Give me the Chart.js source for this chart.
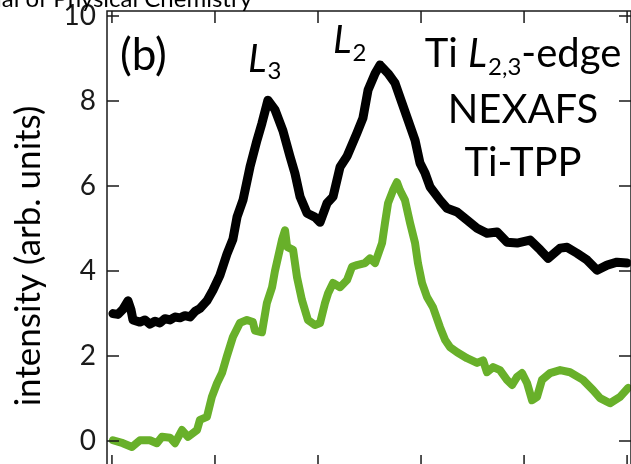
<!DOCTYPE html>
<html lang="en">
<head>
    <title>Ti L2,3-edge NEXAFS</title>
    <meta charset="utf-8">
    <script src="https://cdn.jsdelivr.net/npm/chart.js"></script>
    <style>
        html, body { margin: 0; padding: 0; width: 631px; height: 464px; overflow: hidden; background: #fff; }
        #wrap { width: 631px; height: 467px; }
    </style>
</head>
<body>
    <div id="wrap"><canvas id="nexafsChart" width="631" height="467"></canvas></div>

    <script>
        // photon energy (eV) and intensity, upper (black) curve
        const blackEnergy = [450.05, 450.29, 450.53, 450.78, 450.92, 451.02, 451.36, 451.60, 451.84, 452.09, 452.33, 452.57,
            452.82, 453.06, 453.30, 453.54, 453.79, 454.03, 454.27, 454.61, 454.90, 455.24, 455.58, 455.87, 456.07, 456.36,
            456.70, 457.04, 457.28, 457.57, 457.91, 458.30, 458.64, 458.88, 459.13, 459.47, 459.85, 460.10, 460.44, 460.73,
            461.07, 461.41, 461.89, 462.18, 462.43, 462.77, 463.01, 463.40, 463.74, 464.08, 464.37, 464.71, 464.95, 465.20,
            465.44, 465.92, 466.26, 466.75, 467.23, 467.72, 468.20, 468.69, 469.17, 469.66, 470.29, 470.78, 471.17, 471.75,
            472.09, 472.57, 473.06, 473.54, 474.03, 474.51, 475.00];
        const blackIntensity = [3.00, 2.98, 3.10, 3.30, 3.10, 2.85, 2.80, 2.85, 2.75, 2.82, 2.78, 2.88,
            2.85, 2.92, 2.90, 2.95, 2.92, 3.05, 3.12, 3.30, 3.55, 3.90, 4.40, 4.75, 5.27, 5.67,
            6.45, 7.08, 7.48, 8.02, 7.80, 7.30, 6.70, 6.30, 5.75, 5.36, 5.27, 5.15, 5.60, 5.75,
            6.45, 6.70, 7.25, 7.60, 8.26, 8.65, 8.85, 8.65, 8.42, 7.95, 7.55, 7.08, 6.54, 6.30,
            5.98, 5.67, 5.48, 5.39, 5.20, 5.01, 4.89, 4.92, 4.68, 4.66, 4.73, 4.50, 4.30, 4.54,
            4.56, 4.42, 4.26, 4.02, 4.14, 4.21, 4.19];

        // lower (green) curve
        const greenEnergy = [450.05, 450.53, 450.97, 451.36, 451.84, 452.18, 452.43, 452.82, 453.06, 453.40, 453.69, 454.13,
            454.27, 454.61, 454.85, 455.10, 455.34, 455.58, 455.87, 456.21, 456.55, 456.84, 456.94, 457.28, 457.52, 457.77,
            457.91, 458.25, 458.40, 458.50, 458.79, 458.98, 459.22, 459.51, 459.85, 460.10, 460.34, 460.49, 460.73, 461.07,
            461.41, 461.65, 461.89, 462.28, 462.52, 462.77, 463.11, 463.25, 463.40, 463.64, 463.83, 463.98, 464.22, 464.47,
            464.71, 464.85, 465.05, 465.29, 465.58, 465.92, 466.17, 466.41, 466.75, 467.23, 467.72, 468.01, 468.20, 468.50,
            468.83, 469.17, 469.42, 469.66, 469.90, 470.15, 470.39, 470.63, 470.87, 471.26, 471.75, 472.23, 472.86, 473.35,
            473.69, 474.17, 474.66, 475.05];
        const greenIntensity = [0.02, -0.05, -0.14, 0.02, 0.02, -0.05, 0.10, 0.08, -0.05, 0.26, 0.10, 0.26,
            0.50, 0.57, 1.04, 1.36, 1.60, 2.00, 2.45, 2.78, 2.85, 2.80, 2.60, 2.56, 3.25, 3.62,
            4.00, 4.73, 4.96, 4.57, 4.50, 3.86, 3.32, 2.85, 2.73, 2.78, 3.25, 3.48, 3.72, 3.62,
            3.79, 4.10, 4.14, 4.19, 4.30, 4.19, 4.66, 5.13, 5.60, 5.90, 6.09, 5.90, 5.67, 5.13,
            4.66, 4.19, 3.72, 3.39, 3.15, 2.68, 2.38, 2.21, 2.09, 1.95, 1.84, 1.90, 1.62, 1.74,
            1.67, 1.44, 1.32, 1.51, 1.60, 1.36, 0.96, 1.04, 1.44, 1.60, 1.67, 1.62, 1.44, 1.20,
            1.01, 0.89, 1.04, 1.25];

        const xTicks = [450, 455, 460, 465, 470, 475];
        const yTicks = [0, 2, 4, 6, 8, 10];

        const FONT = 'Lato, "Open Sans", sans-serif';
        const INK = '#1a1a1a';

        const toPoints = (xs, ys) => xs.map((x, i) => ({ x: x, y: ys[i] }));

        // draws one run of text and returns where it ends
        function drawPart(ctx, text, x, y, size, italic) {
            ctx.font = (italic ? 'italic ' : '') + size + 'px ' + FONT;
            ctx.fillText(text, x, y);
            return x + ctx.measureText(text).width;
        }
        function partWidth(ctx, text, size, italic) {
            ctx.font = (italic ? 'italic ' : '') + size + 'px ' + FONT;
            return ctx.measureText(text).width;
        }

        const decorPlugin = {
            id: 'decor',
            afterDraw(chart) {
                const { ctx, chartArea: a, scales: { x, y } } = chart;
                ctx.save();

                // frame with inward ticks
                ctx.strokeStyle = INK;
                ctx.lineWidth = 1.5;
                ctx.strokeRect(a.left, a.top, a.right - a.left, a.bottom - a.top);
                const tl = 12;
                ctx.beginPath();
                xTicks.forEach(v => {
                    const px = x.getPixelForValue(v);
                    ctx.moveTo(px, a.top); ctx.lineTo(px, a.top + tl);
                    ctx.moveTo(px, a.bottom); ctx.lineTo(px, a.bottom - tl);
                });
                yTicks.forEach(v => {
                    const py = y.getPixelForValue(v);
                    ctx.moveTo(a.left, py); ctx.lineTo(a.left + tl, py);
                    ctx.moveTo(a.right, py); ctx.lineTo(a.right - tl, py);
                });
                ctx.stroke();

                ctx.fillStyle = '#000';
                ctx.textBaseline = 'alphabetic';

                // cropped journal header
                ctx.font = '24px ' + FONT;
                ctx.textAlign = 'right';
                ctx.fillText('The Journal of Physical Chemistry', 252, 7);
                ctx.textAlign = 'left';

                // y axis title
                ctx.save();
                ctx.translate(29, 256);
                ctx.rotate(-Math.PI / 2);
                ctx.textAlign = 'center';
                ctx.textBaseline = 'middle';
                ctx.font = '35px ' + FONT;
                ctx.fillText('intensity (arb. units)', 0, 0);
                ctx.restore();

                // panel label
                drawPart(ctx, '(b)', 120, 70, 44, false);

                // peak labels
                let ex = drawPart(ctx, 'L', 248, 72, 39, true);
                drawPart(ctx, '3', ex + 1, 79, 24, false);
                ex = drawPart(ctx, 'L', 333, 53, 39, true);
                drawPart(ctx, '2', ex + 1, 61, 24, false);

                // right-hand block, centred
                const cx = 523;
                const w = partWidth(ctx, 'Ti ', 40, false) + partWidth(ctx, 'L', 40, true)
                    + partWidth(ctx, '2,3', 24, false) + 1 + partWidth(ctx, '-edge', 40, false);
                let px = cx - w / 2;
                px = drawPart(ctx, 'Ti ', px, 67, 40, false);
                px = drawPart(ctx, 'L', px, 67, 40, true);
                px = drawPart(ctx, '2,3', px + 1, 75, 24, false);
                drawPart(ctx, '-edge', px, 67, 40, false);

                ctx.textAlign = 'center';
                ctx.font = '40px ' + FONT;
                ctx.fillText('NEXAFS', cx, 123);
                ctx.fillText('Ti-TPP', cx, 176);

                ctx.restore();
            }
        };

        document.addEventListener('DOMContentLoaded', () => {
            const ctx = document.getElementById('nexafsChart').getContext('2d');

            new Chart(ctx, {
                type: 'line',
                data: {
                    datasets: [{
                        label: 'upper',
                        data: toPoints(blackEnergy, blackIntensity),
                        borderColor: '#000000',
                        borderWidth: 9,
                        pointRadius: 0,
                        tension: 0,
                        borderJoinStyle: 'round',
                        borderCapStyle: 'round'
                    }, {
                        label: 'lower',
                        data: toPoints(greenEnergy, greenIntensity),
                        borderColor: '#68b02a',
                        borderWidth: 8,
                        pointRadius: 0,
                        tension: 0,
                        borderJoinStyle: 'round',
                        borderCapStyle: 'round'
                    }]
                },
                options: {
                    responsive: false,
                    animation: false,
                    devicePixelRatio: 1,
                    layout: { padding: { top: 11, left: 0, right: 0, bottom: 0 } },
                    plugins: {
                        legend: { display: false },
                        tooltip: { enabled: false }
                    },
                    scales: {
                        x: {
                            type: 'linear',
                            min: 449.76,
                            max: 475.19,
                            display: false
                        },
                        y: {
                            min: -0.61,
                            max: 10.12,
                            grid: { display: false, drawTicks: false },
                            border: { display: false },
                            ticks: {
                                padding: 11,
                                color: INK,
                                font: { family: FONT, size: 28 }
                            },
                            afterBuildTicks: (s) => { s.ticks = yTicks.map(v => ({ value: v })); },
                            afterFit: (s) => { s.width = 107; s.paddingTop = 0; s.paddingBottom = 0; }
                        }
                    }
                },
                plugins: [decorPlugin]
            });
        });
    </script>
</body>
</html>
